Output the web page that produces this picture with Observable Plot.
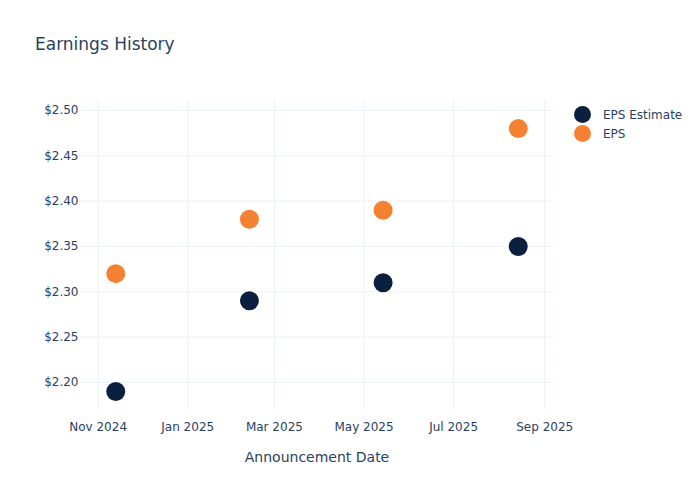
<!DOCTYPE html>
<html>
<head>
<meta charset="utf-8">
<script src="https://cdn.jsdelivr.net/npm/d3@7"></script>
<script src="https://cdn.jsdelivr.net/npm/@observablehq/plot@0.6"></script>
<style>
  html, body { margin: 0; padding: 0; background: #fff; }
  #wrap { position: relative; width: 700px; height: 500px; font-family: "DejaVu Sans", Verdana, sans-serif; color: #2a3f5f; }
  #title { position: absolute; left: 35px; top: 34px; font-size: 17px; color: #2a3f5f; }
  #legend { position: absolute; left: 574px; top: 105px; font-size: 12px; color: #2a3f5f; }
  .item { display: flex; align-items: center; height: 19px; }
  .sw { width: 17px; height: 17px; border-radius: 50%; margin-right: 12px; }
  #chart { position: absolute; left: 0; top: 0; }
</style>
</head>
<body>
<div id="wrap">
  <div id="chart"></div>
  <div id="title">Earnings History</div>
  <div id="legend"></div>
</div>
<script>
const dates = ["2024-11-13", "2025-02-12", "2025-05-14", "2025-08-14"];
const epsEstimate = [2.19, 2.29, 2.31, 2.35];
const eps = [2.32, 2.38, 2.39, 2.48];
const seriesNames = ["EPS Estimate", "EPS"];
const seriesColors = ["#0d1f3f", "#f58233"];
const xTicks = ["2024-11-01", "2025-01-01", "2025-03-01", "2025-05-01", "2025-07-01", "2025-09-01"];
const yTicks = [2.20, 2.25, 2.30, 2.35, 2.40, 2.45, 2.50];

const rows = [];
dates.forEach((d, i) => {
  rows.push({date: new Date(d), value: epsEstimate[i], series: seriesNames[0]});
});
dates.forEach((d, i) => {
  rows.push({date: new Date(d), value: eps[i], series: seriesNames[1]});
});
const xTickDates = xTicks.map(d => new Date(d));
const fmtX = d3.utcFormat("%b %Y");

const chart = Plot.plot({
  width: 700,
  height: 500,
  marginTop: 100,
  marginBottom: 90,
  marginLeft: 80,
  marginRight: 147,
  style: {fontFamily: "DejaVu Sans, Verdana, sans-serif", fontSize: "12px", color: "#2a3f5f", background: "#fff"},
  x: {type: "utc", domain: [new Date("2024-10-20"), new Date("2025-09-07")]},
  y: {domain: [2.169, 2.511]},
  color: {domain: seriesNames, range: seriesColors},
  marks: [
    Plot.gridX(xTickDates, {stroke: "#ebf0f8", strokeOpacity: 1, strokeWidth: 1}),
    Plot.gridY(yTicks, {stroke: "#ebf0f8", strokeOpacity: 1, strokeWidth: 1}),
    Plot.axisX(xTickDates, {tickSize: 0, tickPadding: 12, tickFormat: fmtX, label: null, fontSize: 12}),
    Plot.axisX([], {tickSize: 0, label: "Announcement Date", labelAnchor: "center", labelArrow: "none", labelOffset: 51, fontSize: 14}),
    Plot.axisY(yTicks, {tickSize: 0, tickPadding: 2, tickFormat: d => "$" + d.toFixed(2), label: null, fontSize: 12}),
    Plot.dot(rows, {x: "date", y: "value", fill: "series", r: 9.5, stroke: "none"})
  ]
});
document.getElementById("chart").appendChild(chart);

const legend = document.getElementById("legend");
seriesNames.forEach((n, i) => {
  const it = document.createElement("div");
  it.className = "item";
  const sw = document.createElement("div");
  sw.className = "sw";
  sw.style.background = seriesColors[i];
  const t = document.createElement("span");
  t.textContent = n;
  it.appendChild(sw); it.appendChild(t);
  legend.appendChild(it);
});
</script>
</body>
</html>
